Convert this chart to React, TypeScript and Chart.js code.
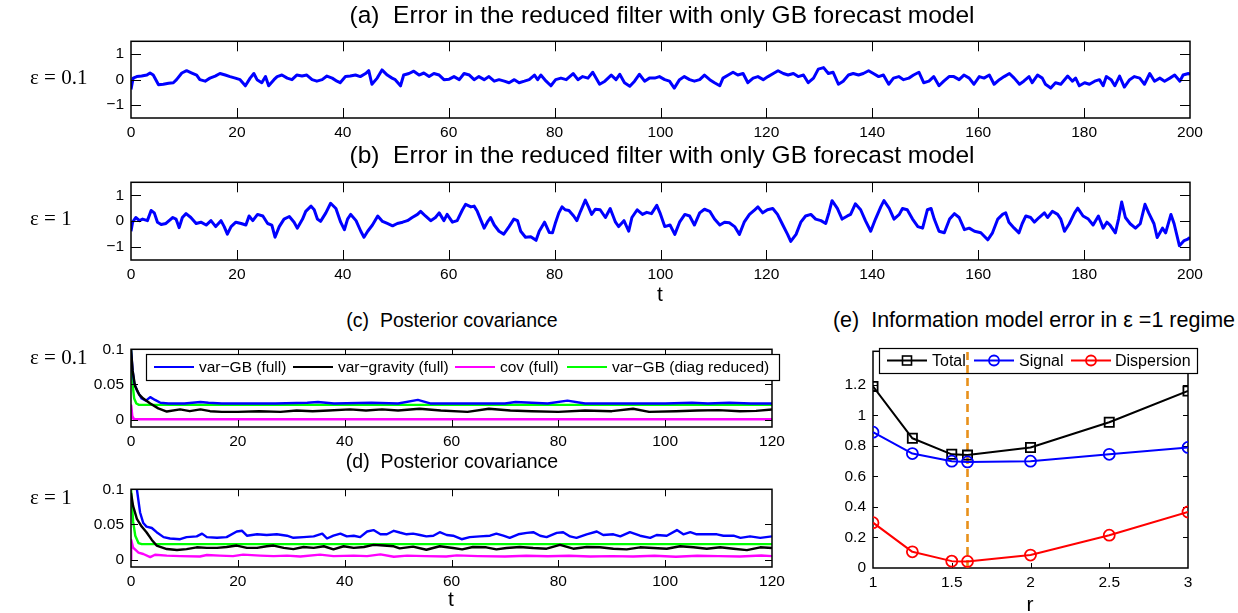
import React, { useEffect, useRef } from 'react';
import { Chart, registerables } from 'chart.js';

Chart.register(...registerables);

const SANS = '"Liberation Sans", Arial, Helvetica, sans-serif';
const SERIF = '"Liberation Serif", "Times New Roman", serif';

// ---------- Panel (a): error, eps = 0.1 ----------
const A_T = [
  0, 0.4, 1.1, 2.0, 3.0, 3.6, 4.2, 5.2, 6.1, 7.1,
  8.0, 8.6, 9.6, 10.5, 11.5, 12.4, 13.0, 14.0, 14.9, 15.9,
  16.8, 17.8, 18.7, 19.7, 20.6, 21.6, 22.5, 23.2, 23.8, 24.7,
  25.4, 26.0, 27.0, 27.6, 28.5, 29.5, 30.4, 31.3, 32.3, 33.2,
  34.2, 35.1, 36.1, 37.0, 38.0, 38.9, 39.5, 40.5, 41.4, 42.4,
  43.3, 44.3, 44.9, 45.5, 46.5, 47.4, 48.4, 49.3, 49.9, 50.9,
  51.5, 52.5, 53.4, 54.4, 55.3, 56.3, 57.2, 58.2, 59.1, 60.1,
  61.0, 62.0, 62.9, 63.9, 64.8, 65.7, 66.7, 67.6, 68.6, 69.5,
  70.5, 71.4, 72.4, 73.3, 74.3, 75.2, 76.2, 76.8, 77.4, 78.4,
  79.3, 80.2, 81.2, 82.2, 83.5, 84.4, 85.3, 86.3, 87.2, 88.5,
  89.5, 90.7, 91.6, 92.3, 93.2, 94.2, 95.1, 96.0, 97.0, 97.9,
  98.9, 99.8, 100.8, 101.7, 102.6, 103.6, 104.5, 105.5, 106.4, 107.4,
  108.3, 109.3, 110.2, 111.2, 111.8, 112.8, 113.7, 114.6, 115.6, 116.5,
  117.5, 118.4, 119.4, 120.3, 121.3, 122.2, 123.2, 124.1, 125.1, 126.0,
  127.0, 127.9, 128.9, 129.8, 130.8, 131.7, 132.6, 133.6, 134.5, 135.5,
  136.4, 137.4, 138.3, 139.3, 140.2, 141.2, 142.1, 143.1, 144.0, 145.0,
  145.9, 146.9, 147.8, 148.8, 149.7, 150.7, 151.6, 152.6, 153.5, 154.5,
  155.4, 156.4, 157.3, 158.3, 159.2, 160.2, 161.1, 162.1, 163.0, 164.0,
  164.9, 165.9, 166.8, 167.8, 168.6, 169.6, 170.2, 171.2, 172.1, 172.7,
  173.7, 174.6, 175.6, 176.9, 177.8, 178.4, 179.1, 180.1, 181.0, 182.0,
  182.9, 183.6, 184.2, 185.1, 185.8, 186.7, 187.6, 188.6, 189.5, 190.5,
  191.4, 192.4, 193.3, 194.3, 195.2, 196.2, 197.1, 198.1, 198.7, 199.7,
  200,
];
const A_ERR = [
  -0.38, 0.06, 0.12, 0.14, 0.18, 0.26, 0.18, -0.2, -0.18, -0.14,
  -0.12, 0, 0.26, 0.35, 0.26, 0.18, 0, -0.06, 0.06, 0.14,
  0.24, 0.18, 0.12, 0.06, 0, -0.24, 0.06, 0.24, 0, -0.12,
  0.12, -0.24, 0, 0.12, 0.18, 0.06, 0, 0.18, 0.14, 0.18,
  0, -0.06, 0, 0.14, 0.06, -0.06, -0.12, 0.12, 0.14, 0.18,
  0.12, 0.24, 0.35, -0.18, 0.06, 0.38, 0.18, 0.06, 0, -0.24,
  0.18, 0.24, 0.33, 0.18, 0.26, 0.12, 0.24, 0.18, 0, 0.02,
  0.12, 0, 0.24, 0.18, 0, 0.12, 0, 0.12, -0.06, 0,
  -0.06, -0.12, 0, -0.12, -0.06, 0, 0.18, 0, 0.18, -0.06,
  -0.24, 0, 0.06, 0, 0.24, 0, 0.12, 0.06, 0.29, -0.18,
  -0.06, 0.18, 0, 0.21, -0.12, -0.26, -0.06, 0.21, -0.06, 0.06,
  0.06, 0.12, 0, -0.06, -0.33, 0, 0.12, 0, -0.06, 0,
  0.18, 0, -0.12, -0.24, 0.06, 0.18, 0.29, 0.18, 0.24, -0.12,
  0.06, 0.12, 0, 0.12, 0.24, 0.35, 0.24, 0.18, 0.24, 0.12,
  0.18, -0.12, 0.06, 0.41, 0.47, 0.24, 0.29, -0.18, -0.06, 0.18,
  0.24, 0.18, 0.24, 0.35, 0.24, 0.12, 0.18, -0.18, 0.06, 0.12,
  0, 0.06, 0.18, 0.29, -0.12, -0.06, 0.12, -0.24, -0.06, 0.12,
  0.12, 0, 0.18, 0.06, -0.18, 0.12, 0.06, 0.18, -0.18, 0,
  0.12, 0.24, 0.06, -0.18, -0.06, 0.12, -0.12, 0.18, 0.06, -0.18,
  -0.33, -0.12, -0.18, 0.14, -0.06, 0.06, -0.24, -0.12, -0.18, -0.06,
  0, -0.24, 0.12, 0, -0.24, 0.14, -0.29, 0, 0.12, 0.06,
  -0.18, 0.24, -0.06, 0.06, -0.06, 0.06, 0.18, -0.06, 0.18, 0.24,
  0.2,
];

// ---------- Panel (b): error, eps = 1 ----------
const B_T = [
  0, 0.3, 0.9, 1.6, 2.2, 3.1, 3.8, 4.4, 5.0, 5.7,
  6.6, 7.2, 7.9, 8.5, 9.1, 9.7, 10.4, 11.3, 12.3, 13.2,
  14.2, 15.1, 16.0, 17.0, 17.6, 18.2, 18.9, 19.8, 20.8, 21.7,
  22.3, 23.0, 23.9, 24.9, 25.8, 26.6, 27.2, 28.0, 28.9, 29.9,
  30.8, 31.4, 32.4, 33.0, 34.0, 34.6, 35.2, 35.8, 36.8, 37.7,
  38.7, 39.6, 40.3, 40.9, 41.5, 42.5, 43.4, 44.0, 44.7, 45.6,
  46.6, 47.5, 48.4, 49.4, 50.3, 51.3, 52.2, 53.1, 54.1, 54.7,
  55.6, 56.6, 57.5, 58.2, 59.1, 59.7, 60.7, 61.6, 62.6, 63.2,
  64.2, 64.8, 65.4, 66.0, 66.7, 67.3, 67.9, 68.6, 69.5, 70.4,
  71.4, 72.3, 73.0, 73.6, 74.5, 75.5, 76.5, 77.1, 78.1, 79.0,
  79.6, 80.2, 80.8, 81.4, 82.0, 82.7, 83.6, 84.2, 84.9, 85.8,
  86.4, 87.0, 87.7, 88.6, 89.6, 90.5, 91.5, 92.1, 93.1, 94.0,
  94.6, 95.6, 96.6, 97.4, 98.3, 99.3, 99.9, 100.8, 101.8, 102.7,
  103.6, 104.6, 105.5, 106.4, 107.4, 108.3, 109.3, 110.2, 111.2, 112.1,
  113.0, 114.0, 114.9, 115.8, 116.8, 117.8, 118.4, 119.3, 120.2, 121.2,
  122.1, 123.1, 124.0, 124.6, 125.6, 126.5, 127.4, 128.4, 129.3, 130.3,
  131.2, 131.8, 132.4, 133.4, 134.3, 135.3, 135.9, 136.8, 137.8, 138.7,
  139.7, 140.6, 141.6, 142.2, 143.2, 144.1, 145.1, 145.7, 146.6, 147.6,
  148.6, 149.5, 150.4, 151.1, 151.7, 152.6, 153.6, 154.6, 155.5, 156.4,
  157.4, 158.3, 159.3, 160.5, 161.8, 162.7, 163.7, 164.6, 165.2, 165.8,
  166.8, 167.7, 168.3, 169.0, 169.9, 170.6, 171.5, 172.5, 173.1, 174.0,
  175.0, 175.6, 176.3, 177.2, 178.2, 178.8, 179.8, 180.8, 181.7, 182.7,
  183.6, 184.3, 184.9, 185.9, 186.5, 187.1, 187.8, 188.7, 189.7, 190.6,
  191.5, 192.2, 193.2, 193.8, 194.8, 195.4, 196.4, 197.0, 198.0, 198.9,
  199.6, 200,
];
const B_ERR = [
  -0.39, -0.04, 0.14, 0.02, 0.08, 0.02, 0.41, 0.32, -0.04, -0.13,
  -0.09, 0.02, 0.14, 0.08, -0.25, 0.14, 0.29, 0.14, -0.09, -0.04,
  -0.15, 0.02, -0.21, 0.02, -0.21, -0.5, -0.21, -0.04, -0.09, -0.15,
  0.2, 0.02, 0.26, 0.2, -0.09, -0.15, -0.62, -0.21, 0.08, 0.18,
  -0.04, -0.27, 0.08, 0.38, 0.58, 0.44, 0.08, -0.01, 0.32, 0.69,
  0.49, -0.04, -0.33, 0.08, 0.26, 0.02, -0.39, -0.62, -0.39, -0.15,
  0.2, -0.01, -0.09, -0.18, -0.09, -0.04, 0.02, 0.14, 0.26, 0.38,
  0.2, 0.02, 0.14, 0.32, 0.02, 0.26, -0.04, 0.02, 0.44, 0.65,
  0.55, 0.58, 0.38, 0.08, -0.27, -0.04, 0.14, -0.15, -0.39, -0.5,
  -0.21, 0.08, 0.02, -0.39, -0.62, -0.6, -0.74, -0.39, -0.04, -0.44,
  -0.45, -0.04, 0.32, 0.55, 0.44, 0.41, 0.2, 0.02, 0.38, 0.81,
  0.55, 0.26, 0.46, 0.44, 0.14, 0.49, -0.04, -0.21, 0.02, -0.39,
  0.14, 0.44, 0.26, 0.34, 0.29, 0.61, 0.32, -0.21, -0.15, -0.51,
  -0.04, 0.26, 0.2, -0.15, 0.32, 0.46, 0.38, 0.08, -0.15, -0.04,
  -0.06, -0.21, -0.51, -0.04, 0.26, 0.44, 0.55, 0.32, 0.44, 0.49,
  0.26, -0.15, -0.51, -0.78, -0.51, -0.04, 0.2, 0.26, 0.08, 0.02,
  -0.09, 0.32, 0.79, 0.49, 0.08, 0.2, 0.26, 0.67, 0.44, 0.02,
  -0.39, 0.08, 0.55, 0.79, 0.49, 0.08, 0.26, 0.49, 0.44, 0.08,
  -0.21, -0.27, 0.44, 0.49, 0.08, -0.39, -0.45, 0.08, 0.29, 0.14,
  -0.33, -0.27, -0.39, -0.45, -0.72, -0.45, 0.08, 0.26, 0.32, -0.04,
  -0.27, -0.45, -0.1, 0.2, 0.14, -0.04, 0.14, 0.32, 0.14, 0.38,
  0.26, 0.08, -0.39, -0.1, 0.32, 0.5, 0.2, 0.08, -0.15, 0.2,
  -0.27, -0.04, -0.15, -0.45, 0.08, 0.74, 0.14, -0.1, -0.27, -0.1,
  0.65, 0.32, -0.1, -0.63, -0.27, -0.45, 0.26, -0.1, -0.95, -0.75,
  -0.69, -0.63,
];

// ---------- Panel (c): posterior covariance, eps = 0.1 ----------
const C_T_GB = [0, 0.3, 0.6, 1.2, 2.0, 2.8, 3.6, 4.5, 5.5, 7, 10, 13, 14.5, 17, 22, 27, 33, 35, 38, 45, 50, 53.7, 56, 62, 70, 72, 78, 81.7, 85, 92, 100, 105, 108, 112, 116, 120];
const C_GB = [0.1, 0.07, 0.052, 0.04, 0.03, 0.027, 0.032, 0.028, 0.024, 0.023, 0.023, 0.025, 0.024, 0.023, 0.023, 0.023, 0.024, 0.025, 0.023, 0.024, 0.023, 0.028, 0.023, 0.023, 0.023, 0.025, 0.023, 0.027, 0.023, 0.023, 0.023, 0.024, 0.023, 0.024, 0.023, 0.023];
const C_T_GRAV = [0, 0.3, 0.75, 1.5, 2.3, 3.6, 5.1, 6.7, 9.2, 11, 13, 14.8, 17, 20, 24, 28, 31, 34, 37, 41, 44, 47, 50, 54, 58, 63, 67, 71, 75, 80, 85, 90, 94, 97, 102, 106, 110, 114, 117, 120];
const C_GRAV = [0.1, 0.07, 0.048, 0.036, 0.03, 0.023, 0.016, 0.0115, 0.0146, 0.012, 0.0146, 0.012, 0.011, 0.011, 0.012, 0.011, 0.013, 0.012, 0.013, 0.0146, 0.013, 0.0146, 0.013, 0.0155, 0.013, 0.011, 0.0155, 0.013, 0.012, 0.011, 0.013, 0.012, 0.0155, 0.011, 0.012, 0.013, 0.0135, 0.012, 0.0125, 0.0145];
const C_T_COV = [0, 0.05, 0.25, 0.6, 120];
const C_COV = [0, 0.02, 0.005, 0.0005, 0.0005];
const C_T_DIAG = [0, 0.3, 0.6, 1.0, 1.5, 120];
const C_DIAG = [0.1, 0.05, 0.03, 0.023, 0.021, 0.021];

// ---------- Panel (d): posterior covariance, eps = 1 ----------
const D_T_GB = [
  0, 0.5, 1.1, 1.7, 2.3, 2.9, 3.9, 4.8, 6.1, 7.3,
  9.2, 10.4, 12.3, 13.3, 14.2, 16.1, 17.9, 19.8, 20.8, 21.7,
  23.6, 25.4, 27.3, 29.2, 30.4, 32.3, 34.2, 35.8, 36.7, 37.9,
  39.2, 40.4, 41.7, 42.9, 44.2, 45.4, 46.7, 47.9, 49.2, 50.3,
  51.6, 52.8, 54.1, 55.3, 56.6, 57.8, 59.1, 60.3, 61.9, 63.4,
  65.3, 67.2, 68.4, 69.7, 70.9, 72.5, 74.1, 75.3, 76.6, 77.8,
  79.7, 80.9, 82.2, 83.4, 85.3, 87.2, 88.4, 90.3, 91.6, 93.4,
  95.3, 97.2, 98.4, 100.3, 102.2, 103.4, 104.7, 105.9, 107.8, 109.7,
  110.9, 112.8, 114.1, 115.9, 117.8, 120,
];
const D_GB = [
  0.16, 0.13, 0.1, 0.067, 0.052, 0.047, 0.045, 0.039, 0.032, 0.030,
  0.029, 0.032, 0.033, 0.037, 0.032, 0.031, 0.032, 0.040, 0.041, 0.034,
  0.036, 0.035, 0.036, 0.034, 0.031, 0.032, 0.033, 0.037, 0.030, 0.034,
  0.037, 0.033, 0.034, 0.032, 0.040, 0.042, 0.036, 0.036, 0.041, 0.0386,
  0.036, 0.037, 0.035, 0.033, 0.034, 0.039, 0.035, 0.034, 0.029, 0.032,
  0.033, 0.034, 0.037, 0.034, 0.031, 0.036, 0.038, 0.039, 0.034, 0.032,
  0.038, 0.039, 0.033, 0.031, 0.036, 0.040, 0.035, 0.036, 0.033, 0.039,
  0.034, 0.031, 0.035, 0.034, 0.042, 0.036, 0.039, 0.036, 0.036, 0.036,
  0.034, 0.034, 0.031, 0.033, 0.031, 0.033,
];
const D_T_GRAV = [
  0, 0.4, 1.1, 2.0, 2.9, 3.9, 4.8, 6.7, 8.6, 10.4,
  12.3, 14.2, 16.1, 17.9, 19.8, 21.7, 23.6, 25.4, 26.7, 28.6,
  30.4, 32.3, 34.2, 36.1, 37.9, 39.8, 41.7, 43.6, 45.4, 47.3,
  49.2, 50.3, 52.8, 55.3, 57.8, 60.3, 62, 64, 66.5, 68.4,
  70.3, 72.8, 75.3, 77.8, 80.3, 82.8, 85.3, 87.8, 90.3, 92.8,
  95.3, 97.8, 100.3, 102.8, 105.3, 107.8, 110.3, 112.8, 115.3, 117.8,
  120,
];
const D_GRAV = [
  0.095, 0.076, 0.058, 0.047, 0.039, 0.028, 0.02, 0.015, 0.0136, 0.015,
  0.0175, 0.0167, 0.0167, 0.018, 0.02, 0.0167, 0.0167, 0.019, 0.02, 0.0167,
  0.015, 0.018, 0.0167, 0.019, 0.0145, 0.019, 0.0167, 0.018, 0.021, 0.02,
  0.019, 0.016, 0.0185, 0.014, 0.019, 0.0165, 0.0145, 0.018, 0.0175, 0.0145,
  0.0165, 0.018, 0.0165, 0.0155, 0.021, 0.0155, 0.018, 0.0175, 0.0155, 0.0145,
  0.0175, 0.0165, 0.0155, 0.019, 0.0175, 0.0155, 0.0175, 0.0155, 0.0135, 0.0175,
  0.0165,
];
const D_T_COV = [
  0, 0.05, 0.4, 1.4, 2.3, 3.6, 4.5, 6.7, 9.2, 12.9,
  14.2, 16.6, 19.1, 21, 24.2, 26.7, 29.2, 31.7, 35.4, 37.9,
  41.7, 44.2, 46.7, 49.2, 51.7, 55, 59, 61, 65, 70,
  74, 78, 82, 86, 90, 94, 98, 102, 106, 110,
  114, 118, 120,
];
const D_COV = [
  0, 0.028, 0.017, 0.010, 0.008, 0.0035, 0.007, 0.0057, 0.005, 0.0044,
  0.0066, 0.0057, 0.005, 0.0071, 0.0057, 0.005, 0.0057, 0.0044, 0.0071, 0.005,
  0.0057, 0.005, 0.0075, 0.004, 0.0057, 0.005, 0.0045, 0.006, 0.005, 0.0045,
  0.0055, 0.0048, 0.0055, 0.0045, 0.005, 0.0045, 0.0055, 0.004, 0.0055, 0.005,
  0.0045, 0.0058, 0.005,
];
const D_T_DIAG = [0, 0.4, 0.8, 1.4, 2, 120];
const D_DIAG = [0.1, 0.054, 0.034, 0.0235, 0.022, 0.022];

const COV_LABELS = ['var−GB (full)', 'var−gravity (full)', 'cov (full)', 'var−GB (diag reduced)'];

// ---------- Panel (e): information model error ----------
const E_R = [1, 1.25, 1.5, 1.6, 2, 2.5, 3];
const E_TOTAL = [1.19, 0.85, 0.745, 0.74, 0.79, 0.955, 1.16];
const E_SIGNAL = [0.89, 0.75, 0.7, 0.695, 0.7, 0.745, 0.79];
const E_DISP = [0.297, 0.106, 0.045, 0.043, 0.085, 0.215, 0.367];
const E_LABELS = ['Total', 'Signal', 'Dispersion'];
const E_OPTIMAL_R = 1.6;

// ---------- Tick values ----------
const AB_X_TICKS = [0, 20, 40, 60, 80, 100, 120, 140, 160, 180, 200];
const AB_Y_TICKS = [-1, 0, 1];
const CD_X_TICKS = [0, 20, 40, 60, 80, 100, 120];
const CD_Y_TICKS = [0, 0.05, 0.1];
const E_X_TICKS = [1, 1.5, 2, 2.5, 3];
const E_Y_TICKS = [0, 0.2, 0.4, 0.6, 0.8, 1, 1.2];

const fmt = (v: number) => (v < 0 ? '−' + String(Math.abs(v)) : String(v));

function pts(xs: number[], ys: number[]) {
  return xs.map((x, i) => ({ x, y: ys[i] }));
}

function lineDs(xs: number[], ys: number[], color: string, width: number, extra: any = {}) {
  return {
    data: pts(xs, ys),
    borderColor: color,
    backgroundColor: color,
    borderWidth: width,
    pointRadius: 0,
    tension: 0,
    borderJoinStyle: 'round',
    ...extra,
  };
}

function axes(o: any) {
  const tickFont = { size: 15.5, family: SANS };
  return {
    x: {
      type: 'linear',
      min: o.xmin,
      max: o.xmax,
      afterBuildTicks: (s: any) => {
        s.ticks = o.xticks.map((v: number) => ({ value: v }));
      },
      afterFit: (s: any) => {
        s.height = o.xh;
      },
      grid: { display: false, drawTicks: false },
      border: { display: false },
      ticks: { autoSkip: false, maxRotation: 0, padding: 5, color: '#000', font: tickFont, callback: (v: any) => fmt(Number(v)) },
    },
    y: {
      type: 'linear',
      min: o.ymin,
      max: o.ymax,
      afterBuildTicks: (s: any) => {
        s.ticks = o.yticks.map((v: number) => ({ value: v }));
      },
      afterFit: (s: any) => {
        s.width = o.yw;
      },
      grid: { display: false, drawTicks: false },
      border: { display: false },
      ticks: { autoSkip: false, padding: 7, color: '#000', font: tickFont, callback: (v: any) => fmt(Number(v)) },
    },
  };
}

function drawLegend(ctx: CanvasRenderingContext2D, L: any) {
  ctx.save();
  ctx.fillStyle = '#fff';
  ctx.fillRect(L.x, L.y, L.w, L.h);
  ctx.strokeStyle = '#000';
  ctx.lineWidth = 1.2;
  ctx.strokeRect(L.x + 0.5, L.y + 0.5, L.w, L.h);
  const cy = L.y + L.h / 2;
  ctx.font = `${L.fontSize}px ${SANS}`;
  ctx.textBaseline = 'middle';
  ctx.textAlign = 'left';
  for (const it of L.items) {
    ctx.strokeStyle = it.color;
    ctx.lineWidth = 2.2;
    ctx.beginPath();
    ctx.moveTo(it.x0, cy);
    ctx.lineTo(it.x0 + 40, cy);
    ctx.stroke();
    const mx = it.x0 + 20;
    if (it.marker === 'rect') {
      ctx.lineWidth = 1.6;
      ctx.strokeRect(mx - 4.5, cy - 4.5, 9, 9);
    } else if (it.marker === 'circle') {
      ctx.lineWidth = 1.8;
      ctx.beginPath();
      ctx.arc(mx, cy, 5, 0, Math.PI * 2);
      ctx.stroke();
    }
    ctx.fillStyle = '#000';
    ctx.fillText(it.label, it.tx, cy + 1);
  }
  ctx.restore();
}

function makeFrame(tickLen: number, boxUnder: boolean, legend: any, legendUnder: boolean) {
  const drawBox = (chart: any) => {
    const { ctx, chartArea: a, scales } = chart;
    const xs = scales.x;
    const ys = scales.y;
    ctx.save();
    ctx.strokeStyle = '#000';
    ctx.lineWidth = 1;
    ctx.beginPath();
    for (const t of xs.ticks) {
      const p = Math.round(xs.getPixelForValue(t.value)) + 0.5;
      if (p <= a.left + 1 || p >= a.right - 1) continue;
      ctx.moveTo(p, a.bottom);
      ctx.lineTo(p, a.bottom - tickLen);
      ctx.moveTo(p, a.top);
      ctx.lineTo(p, a.top + tickLen);
    }
    for (const t of ys.ticks) {
      const p = Math.round(ys.getPixelForValue(t.value)) + 0.5;
      if (p <= a.top + 1 || p >= a.bottom - 1) continue;
      ctx.moveTo(a.left, p);
      ctx.lineTo(a.left + tickLen, p);
      ctx.moveTo(a.right, p);
      ctx.lineTo(a.right - tickLen, p);
    }
    ctx.stroke();
    ctx.lineWidth = 1.5;
    ctx.strokeRect(a.left, a.top, a.right - a.left, a.bottom - a.top);
    ctx.restore();
  };
  return {
    id: 'frame',
    beforeDatasetsDraw(chart: any) {
      if (boxUnder) drawBox(chart);
      if (legend && legendUnder) drawLegend(chart.ctx, legend);
    },
    afterDatasetsDraw(chart: any) {
      if (!boxUnder) drawBox(chart);
    },
    afterDraw(chart: any) {
      if (legend && !legendUnder) drawLegend(chart.ctx, legend);
    },
  };
}

function baseOptions(scales: any) {
  return {
    responsive: false,
    animation: false,
    events: [],
    layout: { padding: { top: 10, right: 20, left: 0, bottom: 0 } },
    plugins: { legend: { display: false }, tooltip: { enabled: false }, title: { display: false } },
    scales,
  };
}

// canvas geometry (page coordinates)
const GEO = {
  a: { left: 71, top: 25, w: 1139, h: 123 },
  b: { left: 71, top: 166, w: 1139, h: 124 },
  c: { left: 71, top: 333, w: 721, h: 124 },
  d: { left: 71, top: 473, w: 721, h: 124 },
  e: { left: 823, top: 335, w: 385, h: 263 },
};

const COV_COLORS = ['#0000ff', '#000000', '#ff00ff', '#00ff00'];

function covLegend() {
  return {
    x: 75, y: 21, w: 633, h: 26, fontSize: 15.5,
    items: [
      { x0: 83, tx: 128, color: COV_COLORS[0], label: COV_LABELS[0] },
      { x0: 222, tx: 267, color: COV_COLORS[1], label: COV_LABELS[1] },
      { x0: 384, tx: 429, color: COV_COLORS[2], label: COV_LABELS[2] },
      { x0: 496, tx: 541, color: COV_COLORS[3], label: COV_LABELS[3] },
    ],
  };
}

function Txt(props: any) {
  const { x, y, size, serif, children, anchor } = props;
  return (
    <div
      style={{
        position: 'absolute',
        left: x,
        top: y,
        transform: anchor === 'left' ? 'translate(0,-50%)' : 'translate(-50%,-50%)',
        fontSize: size,
        fontFamily: serif ? SERIF : SANS,
        whiteSpace: 'pre',
        lineHeight: 1,
        color: '#000',
      }}
    >
      {children}
    </div>
  );
}

export default function App() {
  const ra = useRef<HTMLCanvasElement>(null);
  const rb = useRef<HTMLCanvasElement>(null);
  const rc = useRef<HTMLCanvasElement>(null);
  const rd = useRef<HTMLCanvasElement>(null);
  const re = useRef<HTMLCanvasElement>(null);

  useEffect(() => {
    Chart.defaults.font.family = SANS;
    const abAxes = { xmin: 0, xmax: 200, xticks: AB_X_TICKS, ymin: -1.5, ymax: 1.5, yticks: AB_Y_TICKS, yw: 60, xh: 30 };
    const cdAxes = { xmin: 0, xmax: 120, xticks: CD_X_TICKS, ymin: -0.0105, ymax: 0.1, yticks: CD_Y_TICKS, yw: 60, xh: 30 };
    const eAxes = { xmin: 1, xmax: 3, xticks: E_X_TICKS, ymin: 0, ymax: 1.42, yticks: E_Y_TICKS, yw: 50, xh: 30 };

    const charts: Chart[] = [];
    charts.push(
      new Chart(ra.current as HTMLCanvasElement, {
        type: 'line',
        data: { datasets: [lineDs(A_T, A_ERR, '#0000ff', 3)] },
        options: baseOptions(axes(abAxes)) as any,
        plugins: [makeFrame(10, false, null, false)],
      } as any)
    );
    charts.push(
      new Chart(rb.current as HTMLCanvasElement, {
        type: 'line',
        data: { datasets: [lineDs(B_T, B_ERR, '#0000ff', 3)] },
        options: baseOptions(axes(abAxes)) as any,
        plugins: [makeFrame(10, false, null, false)],
      } as any)
    );
    charts.push(
      new Chart(rc.current as HTMLCanvasElement, {
        type: 'line',
        data: {
          datasets: [
            lineDs(C_T_COV, C_COV, COV_COLORS[2], 2.4),
            lineDs(C_T_GRAV, C_GRAV, COV_COLORS[1], 2.4),
            lineDs(C_T_GB, C_GB, COV_COLORS[0], 2.4),
            lineDs(C_T_DIAG, C_DIAG, COV_COLORS[3], 2.4),
          ],
        },
        options: baseOptions(axes(cdAxes)) as any,
        plugins: [makeFrame(7, false, covLegend(), false)],
      } as any)
    );
    charts.push(
      new Chart(rd.current as HTMLCanvasElement, {
        type: 'line',
        data: {
          datasets: [
            lineDs(D_T_COV, D_COV, COV_COLORS[2], 2.4),
            lineDs(D_T_GRAV, D_GRAV, COV_COLORS[1], 2.4),
            lineDs(D_T_GB, D_GB, COV_COLORS[0], 2.4),
            lineDs(D_T_DIAG, D_DIAG, COV_COLORS[3], 2.4),
          ],
        },
        options: baseOptions(axes(cdAxes)) as any,
        plugins: [makeFrame(7, false, null, false)],
      } as any)
    );
    const eLegend = {
      x: 56, y: 13, w: 318, h: 25, fontSize: 16,
      items: [
        { x0: 64, tx: 109, color: '#000000', label: E_LABELS[0], marker: 'rect' },
        { x0: 151, tx: 196, color: '#0000ff', label: E_LABELS[1], marker: 'circle' },
        { x0: 248, tx: 292, color: '#ff0000', label: E_LABELS[2], marker: 'circle' },
      ],
    };
    const markerDs = (ys: number[], color: string, style: string, r: number) =>
      lineDs(E_R, ys, color, 2, {
        pointRadius: r,
        pointStyle: style,
        pointBorderWidth: 1.8,
        pointBorderColor: color,
        pointBackgroundColor: 'rgba(0,0,0,0)',
      });
    charts.push(
      new Chart(re.current as HTMLCanvasElement, {
        type: 'line',
        data: {
          datasets: [
            markerDs(E_DISP, '#ff0000', 'circle', 5.5),
            markerDs(E_SIGNAL, '#0000ff', 'circle', 5.5),
            markerDs(E_TOTAL, '#000000', 'rect', 6.5),
            lineDs([E_OPTIMAL_R, E_OPTIMAL_R], [0, 1.42], '#e8901a', 2.6, { borderDash: [8, 5] }),
          ],
        },
        options: baseOptions(axes(eAxes)) as any,
        plugins: [makeFrame(5, true, eLegend, true)],
      } as any)
    );
    return () => charts.forEach((c) => c.destroy());
  }, []);

  const cv = (ref: any, g: any) => (
    <canvas
      ref={ref}
      width={g.w}
      height={g.h}
      style={{ position: 'absolute', left: g.left, top: g.top, width: g.w, height: g.h }}
    />
  );

  return (
    <div style={{ position: 'fixed', left: 0, top: 0, width: 1238, height: 613, background: '#fff', overflow: 'hidden' }}>
      {cv(ra, GEO.a)}
      {cv(rb, GEO.b)}
      {cv(rc, GEO.c)}
      {cv(rd, GEO.d)}
      {cv(re, GEO.e)}

      <Txt x={662} y={15} size={24.5}>(a)  Error in the reduced filter with only GB forecast model</Txt>
      <Txt x={662} y={155} size={24.5}>(b)  Error in the reduced filter with only GB forecast model</Txt>
      <Txt x={452} y={321} size={19.5}>(c)  Posterior covariance</Txt>
      <Txt x={452} y={462} size={19.5}>(d)  Posterior covariance</Txt>
      <Txt x={1034} y={321} size={21.5}>(e)  Information model error in ε =1 regime</Txt>

      <Txt x={660} y={293} size={21}>t</Txt>
      <Txt x={451} y={598} size={21}>t</Txt>
      <Txt x={1030} y={603} size={21}>r</Txt>

      <Txt x={30} y={77} size={21} serif anchor="left">ε = 0.1</Txt>
      <Txt x={30} y={218} size={21} serif anchor="left">ε = 1</Txt>
      <Txt x={30} y={357} size={21} serif anchor="left">ε = 0.1</Txt>
      <Txt x={30} y={497} size={21} serif anchor="left">ε = 1</Txt>
    </div>
  );
}
